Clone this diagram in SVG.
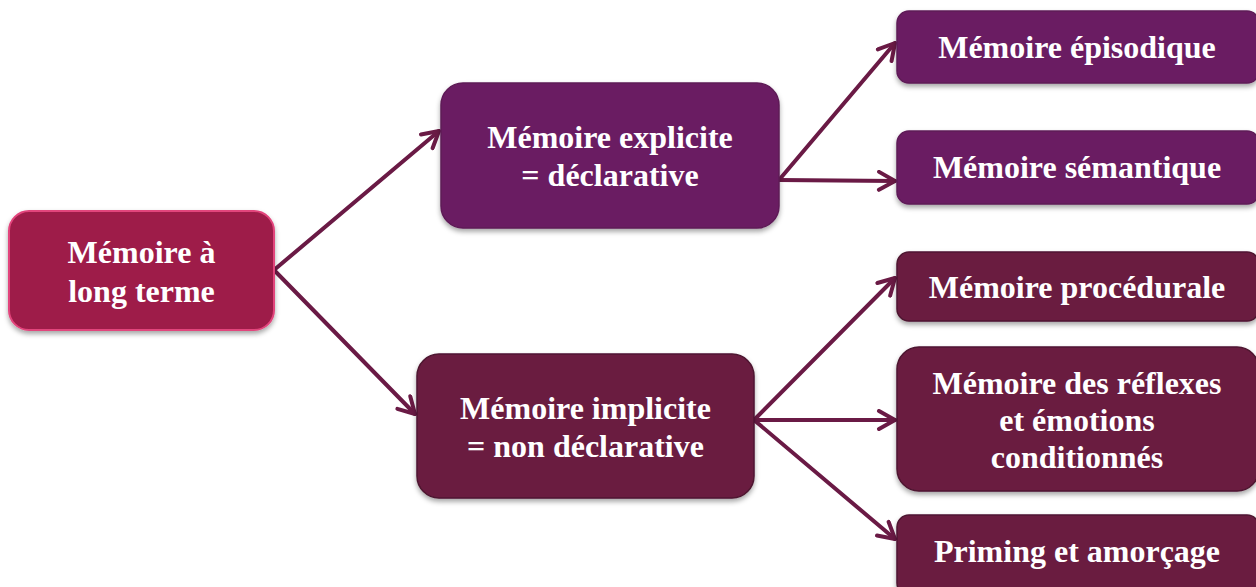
<svg xmlns="http://www.w3.org/2000/svg" width="1256" height="587" viewBox="0 0 1256 587">
<style>
.t{font-family:"Liberation Serif","Times New Roman",serif;font-weight:bold;font-size:32px;fill:#ffffff;text-anchor:middle}
.c{fill:none;stroke:#6a1a45;stroke-width:4;stroke-linecap:round}
.n1{fill:#6a1e62;stroke:#5e1a57;stroke-width:1.5}
.n2{fill:#6a1e40;stroke:#4e1530;stroke-width:1.5}
</style>
<defs>
<filter id="sh" x="-10%" y="-10%" width="120%" height="130%">
<feDropShadow dx="0" dy="3" stdDeviation="2.5" flood-color="#000" flood-opacity="0.35"/>
</filter>
<marker id="ah" viewBox="0 0 22 22" refX="19" refY="11" markerWidth="22" markerHeight="22" markerUnits="userSpaceOnUse" orient="auto">
<path d="M3,2 L19,11 L3,20" fill="none" stroke="#6a1a45" stroke-width="4" stroke-linecap="round" stroke-linejoin="round"/>
</marker>
</defs>
<rect width="1256" height="587" fill="#ffffff"/>
<g id="connectors">
<line class="c" x1="274" y1="270" x2="439" y2="131" marker-end="url(#ah)"/>
<line class="c" x1="274" y1="270" x2="415" y2="414" marker-end="url(#ah)"/>
<line class="c" x1="779" y1="180" x2="895" y2="43" marker-end="url(#ah)"/>
<line class="c" x1="779" y1="180" x2="895" y2="181" marker-end="url(#ah)"/>
<line class="c" x1="754" y1="420" x2="895" y2="278" marker-end="url(#ah)"/>
<line class="c" x1="754" y1="420" x2="895" y2="420" marker-end="url(#ah)"/>
<line class="c" x1="754" y1="420" x2="895" y2="539" marker-end="url(#ah)"/>
</g>
<g id="root">
<rect x="9" y="211" width="265" height="119" rx="20" fill="#9e1c48" stroke="#e2447c" stroke-width="2" filter="url(#sh)"/>
<text class="t" x="141.5" y="263">Mémoire à</text>
<text class="t" x="141.5" y="302">long terme</text>
</g>
<g id="explicit">
<rect class="n1" x="441" y="83" width="338" height="145" rx="22" filter="url(#sh)"/>
<text class="t" x="610" y="148">Mémoire explicite</text>
<text class="t" x="610" y="186">= déclarative</text>
</g>
<g id="implicit">
<rect class="n2" x="417" y="354" width="337" height="144" rx="22" filter="url(#sh)"/>
<text class="t" x="585.5" y="419">Mémoire implicite</text>
<text class="t" x="585.5" y="457">= non déclarative</text>
</g>
<g id="episodique">
<rect class="n1" x="897" y="11" width="362" height="72" rx="12" filter="url(#sh)"/>
<text class="t" x="1077" y="58">Mémoire épisodique</text>
</g>
<g id="semantique">
<rect class="n1" x="897" y="131" width="362" height="73" rx="12" filter="url(#sh)"/>
<text class="t" x="1077" y="178">Mémoire sémantique</text>
</g>
<g id="procedurale">
<rect class="n2" x="897" y="252" width="362" height="69" rx="12" filter="url(#sh)"/>
<text class="t" x="1077" y="298">Mémoire procédurale</text>
</g>
<g id="reflexes">
<rect class="n2" x="897" y="347" width="362" height="144" rx="22" filter="url(#sh)"/>
<text class="t" x="1077" y="394">Mémoire des réflexes</text>
<text class="t" x="1077" y="431">et émotions</text>
<text class="t" x="1077" y="468">conditionnés</text>
</g>
<g id="priming">
<rect class="n2" x="897" y="515" width="362" height="80" rx="12" filter="url(#sh)"/>
<text class="t" x="1077" y="562">Priming et amorçage</text>
</g>
</svg>
